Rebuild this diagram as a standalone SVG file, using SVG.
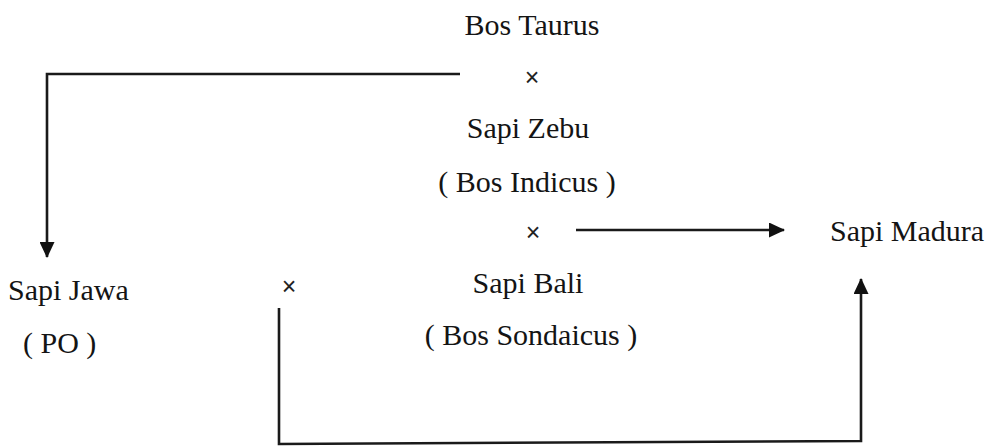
<svg xmlns="http://www.w3.org/2000/svg" width="994" height="448" viewBox="0 0 994 448">
<style>
.t{font-family:"Liberation Serif","Times New Roman",serif;font-size:30px;fill:#141414}
.x{font-family:"Liberation Sans",Arial,sans-serif;font-size:25px;fill:#222;text-anchor:middle}
.c{fill:none;stroke:#1a1a1a;stroke-width:2.6}
</style>
<defs>
<marker id="ah" markerUnits="userSpaceOnUse" markerWidth="16" markerHeight="15" refX="15" refY="7.5" orient="auto">
<path d="M0,0 L16,7.5 L0,15 z" fill="#111"/>
</marker>
</defs>
<rect width="994" height="448" fill="#fff"/>
<g id="connectors">
<polyline class="c" points="460,74 47,74 47,257" marker-end="url(#ah)"/>
<line class="c" x1="576" y1="230" x2="784" y2="230" marker-end="url(#ah)"/>
<polyline class="c" points="279,308 279,444 861,441 861,279" marker-end="url(#ah)"/>
</g>
<g id="bos-taurus"><text class="t" x="532" y="35" text-anchor="middle">Bos Taurus</text></g>
<g id="cross-1"><text class="x" x="532" y="86">×</text></g>
<g id="sapi-zebu"><text class="t" x="528" y="138" text-anchor="middle">Sapi Zebu</text><text class="t" x="527" y="192" text-anchor="middle">( Bos Indicus )</text></g>
<g id="cross-2"><text class="x" x="533" y="241">×</text></g>
<g id="sapi-madura"><text class="t" x="830" y="241">Sapi Madura</text></g>
<g id="sapi-jawa"><text class="t" x="8" y="300">Sapi Jawa</text><text class="t" x="23" y="353">( PO )</text></g>
<g id="cross-3"><text class="x" x="289" y="295">×</text></g>
<g id="sapi-bali"><text class="t" x="528" y="293" text-anchor="middle">Sapi Bali</text><text class="t" x="531" y="345" text-anchor="middle">( Bos Sondaicus )</text></g>
</svg>
